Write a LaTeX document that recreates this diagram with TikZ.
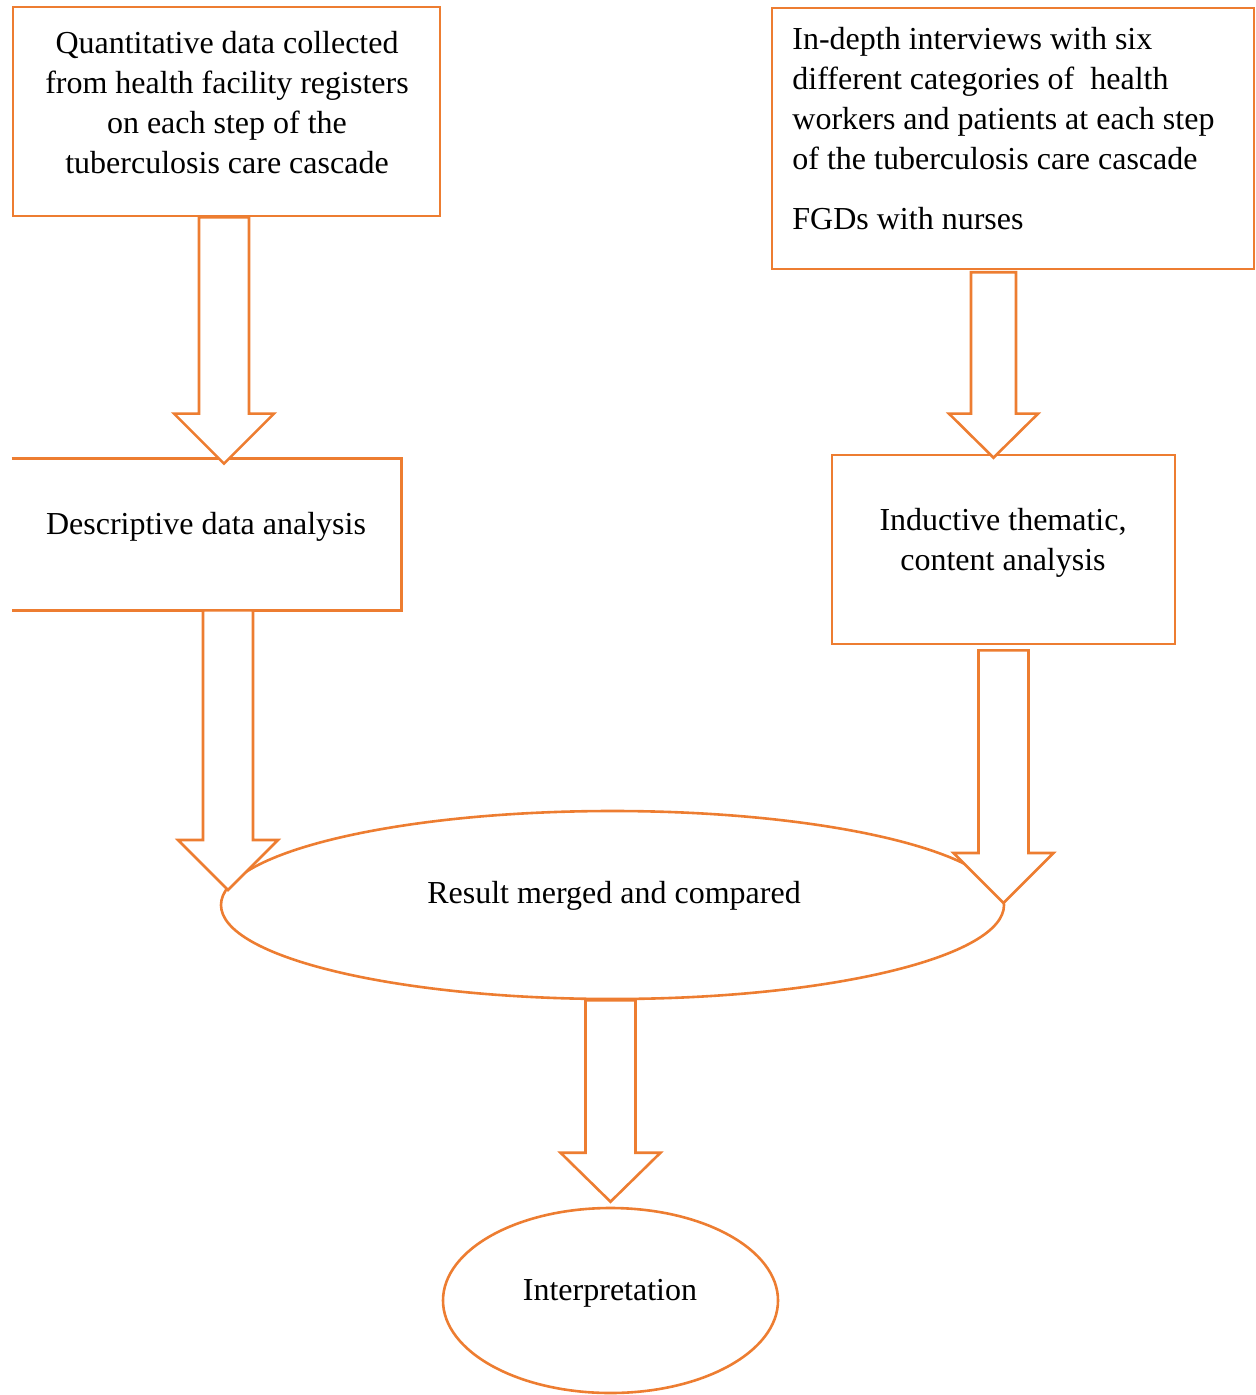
\documentclass[tikz,border=0pt]{standalone}
\usepackage{fontspec}
\setmainfont{Liberation Serif}
\usetikzlibrary{shapes.geometric,calc}
\definecolor{boxorange}{HTML}{ED7D31}
\tikzset{
  frame/.style={draw=boxorange, line width=1.3pt, rectangle, inner sep=0pt},
  oval/.style={draw=boxorange, line width=1.3pt, ellipse, inner sep=0pt},
  txt/.style={inner sep=0pt, align=center, font=\fontsize{16pt}{20pt}\selectfont},
  barrowg/.style n args={3}{draw=boxorange, line width=1.3pt, fill=white, line join=miter,
    to path={let \p1=(\tikztostart), \p2=(\tikztotarget) in
      (\x1-#1,\y1) -- (\x1-#1,\y2+#3) -- (\x1-#2,\y2+#3) -- (\x1,\y2)
      -- (\x1+#2,\y2+#3) -- (\x1+#1,\y2+#3) -- (\x1+#1,\y1) -- cycle}},
  barrow/.style={barrowg={12.5pt}{25pt}{25pt}}
}
\begin{document}
\begin{tikzpicture}[x=0.5pt,y=-0.5pt]
\useasboundingbox (0,0) rectangle (1255,1395);
% boxes
\node[frame, minimum width=213.5pt, minimum height=104.5pt] (qbox) at (226.5,111.5) {};
\node[txt] (qtxt) at (227,103) {Quantitative data collected\\from health facility registers\\on each step of the\\tuberculosis care cascade};
\node[frame, minimum width=241pt, minimum height=130.5pt] (ibox) at (1013,138.5) {};
\node[txt, align=left, anchor=north west] (itxt) at (792,27) {In-depth interviews with six\\different categories of\ \ health\\workers and patients at each step\\of the tuberculosis care cascade\\[10pt]FGDs with nurses};
\node[minimum width=194.5pt, minimum height=75.5pt, inner sep=0pt] (dbox) at (206.5,534.5) {};
\draw[draw=boxorange, line width=1.3pt] (dbox.north west) -- (dbox.north east) -- (dbox.south east) -- (dbox.south west);
\node[txt] (dtxt) at (206,527) {Descriptive data analysis};
\node[frame, minimum width=171.5pt, minimum height=94.5pt] (tbox) at (1003.5,549.5) {};
\node[txt] (ttxt) at (1003,543) {Inductive thematic,\\content analysis};
\node[oval, minimum width=391.5pt, minimum height=94pt] (res) at (612.5,905) {};
\node[txt] (rtxt) at (614,896) {Result merged and compared};
\node[oval, minimum width=167.5pt, minimum height=92.5pt] (interp) at (610.5,1300.5) {};
\node[txt] (itp) at (610,1293) {Interpretation};
% block arrows
\draw[barrow] ([xshift=-1.25pt]qbox.south) to ([yshift=-2.5pt]dbox.north);
\draw[barrowg={11.25pt}{22.25pt}{22pt}] ([xshift=-9.75pt,yshift=-1pt]ibox.south) to ([yshift=-2pt]tbox.north);
\draw[barrow] ([xshift=10.75pt]dbox.south) to ([yshift=7.5pt]res.center);
\draw[barrow] ([yshift=-2.5pt]tbox.south) to ([yshift=1pt]res.center);
\draw[barrowg={12.5pt}{25pt}{24.5pt}] ([xshift=-1pt]res.south) to ([yshift=2.5pt]interp.north);
\end{tikzpicture}
\end{document}
